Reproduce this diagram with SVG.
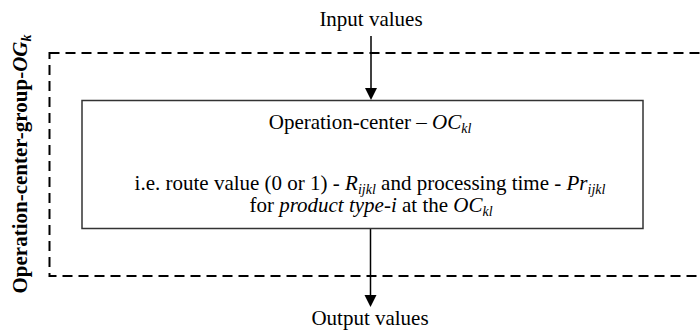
<svg xmlns="http://www.w3.org/2000/svg" width="700" height="331" viewBox="0 0 700 331">
<style>
text{font-family:"Liberation Serif","Times New Roman",serif;font-size:21px;fill:#000}
.it{font-style:italic}
.sub{font-size:14px;font-style:italic}
.dash{fill:none;stroke:#000;stroke-width:2;stroke-dasharray:10 6}
.box{fill:#fff;stroke:#333;stroke-width:1.5}
.conn{stroke:#000;stroke-width:1.5;fill:none}
.head{fill:#000;stroke:none}
</style>
<g id="group-OG">
<rect class="dash" x="49.5" y="53" width="700" height="223"/>
<text transform="translate(27,164) rotate(-90)" text-anchor="middle" font-weight="bold">Operation-center-group-<tspan class="it">OG</tspan><tspan class="sub" font-weight="bold" dy="4">k</tspan></text>
</g>
<g id="connectors">
<line class="conn" x1="371" y1="36" x2="371" y2="90"/>
<polygon class="head" points="365,88 377,88 371,100"/>
<line class="conn" x1="370.5" y1="229" x2="370.5" y2="297"/>
<polygon class="head" points="364.5,295 376.5,295 370.5,307"/>
</g>
<g id="input">
<text x="371" y="26" text-anchor="middle">Input values</text>
</g>
<g id="operation-center">
<rect class="box" x="82" y="100.5" width="561" height="128"/>
<text x="370" y="129" text-anchor="middle">Operation-center – <tspan class="it">OC</tspan><tspan class="sub" dy="4">kl</tspan></text>
<text x="370" y="190" text-anchor="middle">i.e. route value (0 or 1) - <tspan class="it">R</tspan><tspan class="sub" dy="4">ijkl</tspan><tspan dy="-4"> and processing time - </tspan><tspan class="it">Pr</tspan><tspan class="sub" dy="4">ijkl</tspan></text>
<text x="371" y="212" text-anchor="middle">for <tspan class="it">product type-i</tspan> at the <tspan class="it">OC</tspan><tspan class="sub" dy="4">kl</tspan></text>
</g>
<g id="output">
<text x="370" y="325" text-anchor="middle">Output values</text>
</g>
</svg>
